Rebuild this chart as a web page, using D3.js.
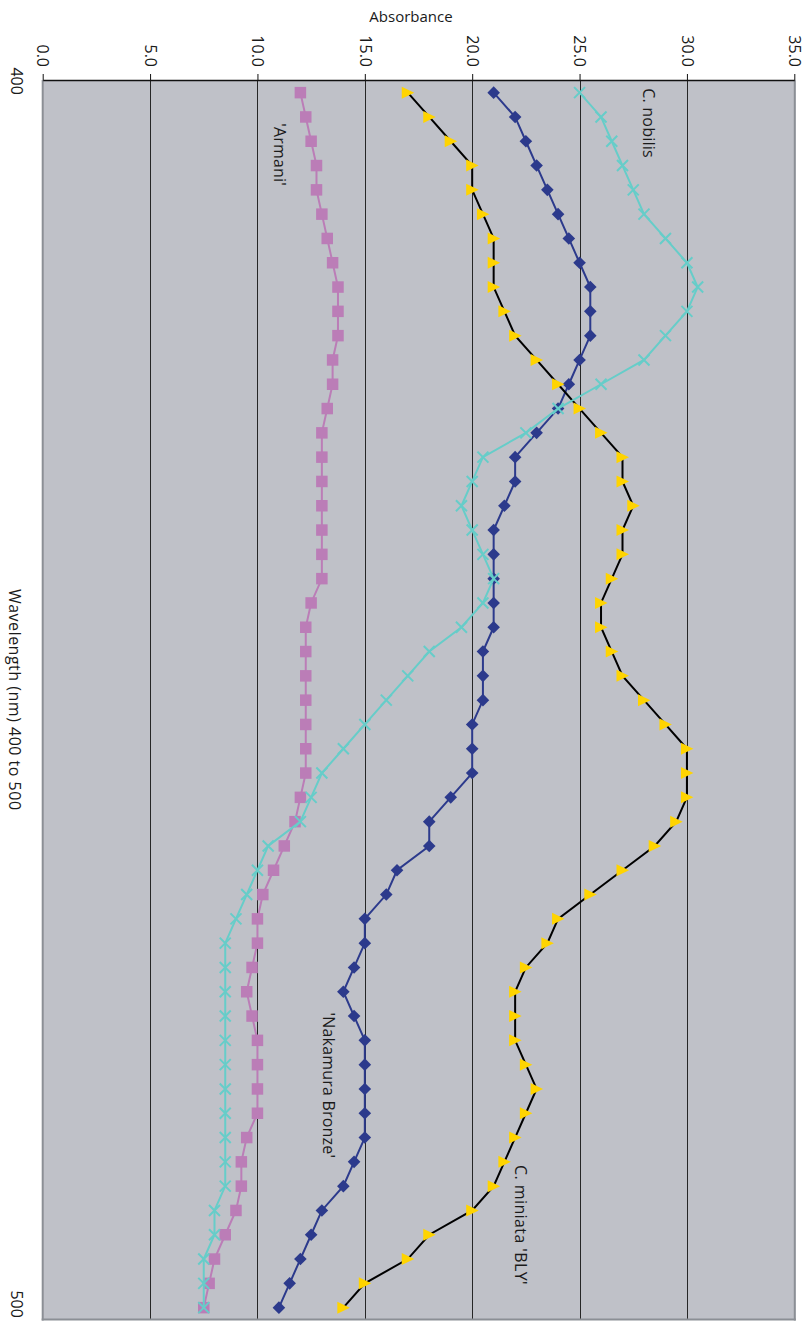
<!DOCTYPE html>
<html><head><meta charset="utf-8">
<script src="https://cdn.jsdelivr.net/npm/d3@7"></script>
<style>
html,body{margin:0;padding:0;background:#fff;}
svg{display:block;}
text{font-family:"Open Sans","Noto Sans",sans-serif;fill:#1a1a1a;}
</style>
</head><body>
<svg id="chart" width="808" height="1327"></svg>
<script>
// ---- data ----
const wavelengths = [400,402,404,406,408,410,412,414,416,418,420,422,424,426,428,430,432,434,436,438,440,442,444,446,448,450,452,454,456,458,460,462,464,466,468,470,472,474,476,478,480,482,484,486,488,490,492,494,496,498,500];
const armani = [12.0,12.25,12.5,12.75,12.75,13.0,13.25,13.5,13.75,13.75,13.75,13.5,13.5,13.25,13.0,13.0,13.0,13.0,13.0,13.0,13.0,12.5,12.25,12.25,12.25,12.25,12.25,12.25,12.25,12.0,11.75,11.25,10.75,10.25,10.0,10.0,9.75,9.5,9.75,10.0,10.0,10.0,10.0,9.5,9.25,9.25,9.0,8.5,8.0,7.75,7.5];
const nakamuraBronze = [21.0,22.0,22.5,23.0,23.5,24.0,24.5,25.0,25.5,25.5,25.5,25.0,24.5,24.0,23.0,22.0,22.0,21.5,21.0,21.0,21.0,21.0,21.0,20.5,20.5,20.5,20.0,20.0,20.0,19.0,18.0,18.0,16.5,16.0,15.0,15.0,14.5,14.0,14.5,15.0,15.0,15.0,15.0,15.0,14.5,14.0,13.0,12.5,12.0,11.5,11.0];
const miniataBLY = [17.0,18.0,19.0,20.0,20.0,20.5,21.0,21.0,21.0,21.5,22.0,23.0,24.0,25.0,26.0,27.0,27.0,27.5,27.0,27.0,26.5,26.0,26.0,26.5,27.0,28.0,29.0,30.0,30.0,30.0,29.5,28.5,27.0,25.5,24.0,23.5,22.5,22.0,22.0,22.0,22.5,23.0,22.5,22.0,21.5,21.0,20.0,18.0,17.0,15.0,14.0];
const nobilis = [25.0,26.0,26.5,27.0,27.5,28.0,29.0,30.0,30.5,30.0,29.0,28.0,26.0,24.0,22.5,20.5,20.0,19.5,20.0,20.5,21.0,20.5,19.5,18.0,17.0,16.0,15.0,14.0,13.0,12.5,12.0,10.5,10.0,9.5,9.0,8.5,8.5,8.5,8.5,8.5,8.5,8.5,8.5,8.5,8.5,8.5,8.0,8.0,7.5,7.5,7.5];
const absorbanceTicks = [0,5,10,15,20,25,30,35];
const wavelengthTickLabels = [400,500];
const seriesNames = ["'Armani'","'Nakamura Bronze'","C. miniata 'BLY'","C. nobilis"];
const labelAbsorbance = [11.05,13.3,22.25,28.2];
const labelWavelength = [405.1,481.7,493.2,402.5];

// ---- layout ----
const svg = d3.select("#chart");
const x = d3.scaleLinear().domain([0,35]).range([42.7,794.3]);
const y = d3.scaleBand().domain(wavelengths).range([80.5,1319.8]);
const bw = y.bandwidth();
const yc = d => y(d) + bw/2;
const yLin = d3.scaleLinear().domain([400,500]).range([yc(400), yc(500)]);
const plotTop = 80, plotBottom = 1319.5;

// plot background
svg.append("rect").attr("x",x(0)).attr("y",plotTop).attr("width",x(35)-x(0)+1).attr("height",plotBottom-plotTop)
  .attr("fill","#bfc1c8");

// grid lines
svg.append("g").selectAll("line").data(absorbanceTicks.filter(t=>t>0&&t<35)).join("line")
  .attr("x1",d=>Math.round(x(d))+0.5).attr("x2",d=>Math.round(x(d))+0.5)
  .attr("y1",plotTop).attr("y2",plotBottom)
  .attr("stroke","#262626").attr("stroke-width",1);

// borders left/right/bottom
const bc = "#8b8f95";
svg.append("line").attr("x1",x(0)).attr("x2",x(0)).attr("y1",plotTop).attr("y2",plotBottom+1).attr("stroke",bc).attr("stroke-width",2);
svg.append("line").attr("x1",x(35)+0.5).attr("x2",x(35)+0.5).attr("y1",plotTop).attr("y2",plotBottom+1).attr("stroke",bc).attr("stroke-width",2);
svg.append("line").attr("x1",x(0)-1).attr("x2",x(35)+1.5).attr("y1",plotBottom).attr("y2",plotBottom).attr("stroke",bc).attr("stroke-width",2);

// top axis
const axis = d3.axisTop(x).tickValues(absorbanceTicks).tickSize(6).tickSizeOuter(0).tickFormat(d3.format(".1f"));
const ag = svg.append("g").attr("transform",`translate(0,${plotTop})`).call(axis);
ag.attr("font-family",null).attr("font-size",null);
ag.select(".domain").attr("stroke","#111").attr("stroke-width",1.5);
ag.selectAll(".tick line").attr("stroke","#111").attr("stroke-width",1);
ag.selectAll(".tick text").attr("y",null).attr("dy","0.36em")
  .attr("text-anchor","end").attr("font-size",16).attr("fill","#1a1a1a")
  .attr("transform","translate(0,-13) rotate(90)");

// axis titles
svg.append("text").attr("x",411).attr("y",22).attr("text-anchor","middle").attr("font-size",15).text("Absorbance");
svg.append("text").attr("transform",`translate(15,${(plotTop+plotBottom)/2}) rotate(90)`)
  .attr("text-anchor","middle").attr("dy","0.36em").attr("font-size",16).attr("letter-spacing",0.5)
  .text("Wavelength (nm) 400 to 500");

// wavelength labels
svg.append("g").selectAll("text").data(wavelengthTickLabels).join("text")
  .attr("transform",(d,i)=>`translate(17,${i===0 ? yc(d)-11.5 : yc(d)-3.5}) rotate(90)`)
  .attr("text-anchor","middle").attr("dy","0.36em").attr("font-size",16)
  .text(d=>d);

// series
const line = d3.line().x(d=>x(d.v)).y(d=>yc(d.w));
function pts(arr){ return arr.map((v,i)=>({w:wavelengths[i], v})); }

// Armani
const dA = pts(armani);
svg.append("path").datum(dA).attr("d",line).attr("fill","none").attr("stroke","#bb7db7").attr("stroke-width",2);
svg.append("g").selectAll("rect").data(dA).join("rect")
  .attr("x",d=>x(d.v)-5.75).attr("y",d=>yc(d.w)-5.75).attr("width",11.5).attr("height",11.5)
  .attr("fill","#bb7db7");

// Nakamura Bronze
const dN = pts(nakamuraBronze);
svg.append("path").datum(dN).attr("d",line).attr("fill","none").attr("stroke","#2c3a8c").attr("stroke-width",2);
svg.append("g").selectAll("path").data(dN).join("path")
  .attr("d",d=>{const cx=x(d.v), cy=yc(d.w), r=6.3; return `M${cx},${cy-r}L${cx+r},${cy}L${cx},${cy+r}L${cx-r},${cy}Z`;})
  .attr("fill","#2c3a8c");

// C. miniata 'BLY'
const dM = pts(miniataBLY);
svg.append("path").datum(dM).attr("d",line).attr("fill","none").attr("stroke","#000").attr("stroke-width",2);
svg.append("g").selectAll("path").data(dM).join("path")
  .attr("d",d=>{const cx=x(d.v), cy=yc(d.w), r=6; return `M${cx-r},${cy-r}L${cx+r+0.5},${cy}L${cx-r},${cy+r}Z`;})
  .attr("fill","#ffd400");

// C. nobilis
const dC = pts(nobilis);
svg.append("path").datum(dC).attr("d",line).attr("fill","none").attr("stroke","#66cdc9").attr("stroke-width",2);
svg.append("g").selectAll("path").data(dC).join("path")
  .attr("d",d=>{const cx=x(d.v), cy=yc(d.w), r=5.5; return `M${cx-r},${cy-r}L${cx+r},${cy+r}M${cx+r},${cy-r}L${cx-r},${cy+r}`;})
  .attr("fill","none").attr("stroke","#66cdc9").attr("stroke-width",2);

// series labels
svg.append("g").selectAll("text").data(seriesNames).join("text")
  .attr("transform",(d,i)=>`translate(${x(labelAbsorbance[i])},${yLin(labelWavelength[i])}) rotate(90)`)
  .attr("text-anchor","middle").attr("dy","0.36em").attr("font-size",16)
  .attr("letter-spacing",(d,i)=> i===2 ? 0.4 : 0.2)
  .text(d=>d);
</script>
</body></html>
